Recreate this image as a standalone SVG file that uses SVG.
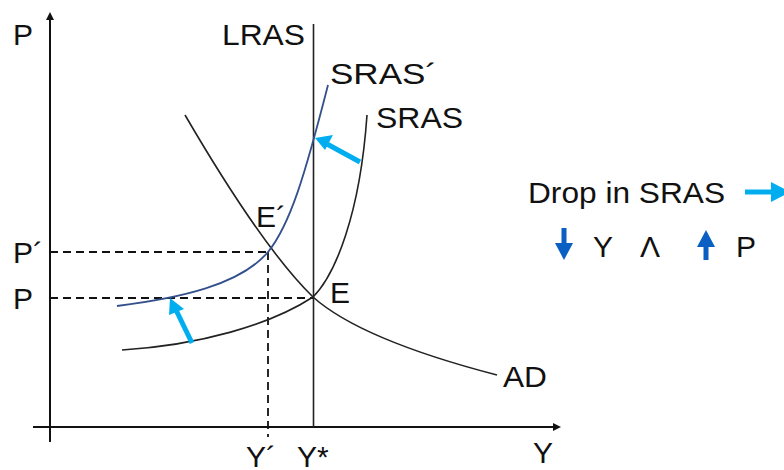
<svg xmlns="http://www.w3.org/2000/svg" width="784" height="470" viewBox="0 0 784 470">
<defs>
<style>
text{font-family:"Liberation Sans",Arial,sans-serif;font-size:30px;fill:#111}
.ax{stroke:#111;stroke-width:2;fill:none}
.cv{stroke:#222;stroke-width:1.6;fill:none}
.blue{stroke:#34508c;stroke-width:1.8;fill:none}
.dash{stroke:#111;stroke-width:1.8;stroke-dasharray:8,5;fill:none}
.cy{stroke:#00aeef;stroke-width:5;fill:none}
.cyh{fill:#00aeef}
.bl{fill:#0a5fc2}
</style>
<marker id="ah" markerWidth="8" markerHeight="8" refX="6" refY="4" orient="auto" markerUnits="userSpaceOnUse">
<path d="M0,0 L8,4 L0,8 Z" fill="#111"/>
</marker>
</defs>
<g id="axes">
<line class="ax" x1="50" y1="442" x2="50" y2="14" marker-end="url(#ah)"/>
<line class="ax" x1="33" y1="427" x2="559" y2="427" marker-end="url(#ah)"/>
<text x="13" y="45">P</text>
<text x="533" y="463">Y</text>
</g>
<g id="connectors">
<line class="dash" x1="50" y1="252" x2="268" y2="252"/>
<line class="dash" x1="50" y1="298" x2="313" y2="298"/>
<line class="dash" x1="268" y1="252" x2="268" y2="437"/>
</g>
<g id="LRAS">
<line class="cv" x1="313.5" y1="24" x2="313.5" y2="427"/>
<text x="222" y="45" textLength="83" lengthAdjust="spacingAndGlyphs">LRAS</text>
</g>
<g id="AD">
<path class="cv" d="M185,115 C220,175 270,255 313,297 C350,330 420,355 497,375"/>
<text x="503" y="387" textLength="44" lengthAdjust="spacingAndGlyphs">AD</text>
</g>
<g id="SRAS">
<path class="cv" d="M122,350 C200,345 270,325 313,297 C335,275 360,215 367,115"/>
<text x="376" y="128" textLength="87" lengthAdjust="spacingAndGlyphs">SRAS</text>
</g>
<g id="SRAS2">
<path class="blue" d="M117,306 C180,298 240,285 268,252 C290,225 305,175 328,85"/>
<text x="330" y="84" textLength="107" lengthAdjust="spacingAndGlyphs">SRAS´</text>
</g>
<g id="points">
<text x="256" y="227">E´</text>
<text x="330" y="303">E</text>
<text x="13" y="263">P´</text>
<text x="13" y="309">P</text>
<text x="246" y="467">Y´</text>
<text x="297" y="467">Y*</text>
</g>
<g id="shift-arrows">
<line class="cy" x1="360" y1="162" x2="327" y2="144"/>
<polygon class="cyh" points="315,138 333,135 325,150"/>
<line class="cy" x1="192" y1="343" x2="176" y2="310"/>
<polygon class="cyh" points="170,298 184,309 169,315"/>
</g>
<g id="legend">
<text x="528" y="203" textLength="197" lengthAdjust="spacingAndGlyphs">Drop in SRAS</text>
<line class="cy" x1="745" y1="192" x2="774" y2="192"/>
<polygon class="cyh" points="771,182 790,192 771,202"/>
<rect class="bl" x="561.5" y="228" width="5" height="17"/>
<polygon class="bl" points="555,243 573,243 564,260"/>
<text x="593" y="257">Y</text>
<text x="640" y="257">Λ</text>
<polygon class="bl" points="697,247 715,247 706,230"/>
<rect class="bl" x="703.5" y="245" width="5" height="15"/>
<text x="736" y="257">P</text>
</g>
</svg>
